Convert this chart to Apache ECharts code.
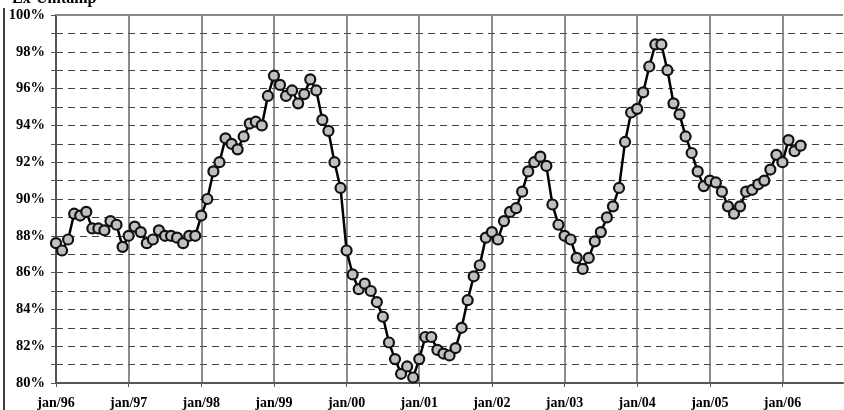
<!DOCTYPE html>
<html>
<head>
<meta charset="utf-8">
<script src="https://cdn.jsdelivr.net/npm/echarts@6/dist/echarts.min.js"></script>
<style>
  html, body { margin: 0; padding: 0; background: #fff; }
  #chart { width: 844px; height: 410px; }
</style>
</head>
<body>
<div id="chart"></div>
<script>
// monthly values, jan/96 .. apr/06 (%)
const values = [
  87.6, 87.2, 87.8, 89.2, 89.1, 89.3, 88.4, 88.4, 88.3, 88.8, 88.6, 87.4,
  88.0, 88.5, 88.2, 87.6, 87.8, 88.3, 88.0, 88.0, 87.9, 87.6, 88.0, 88.0,
  89.1, 90.0, 91.5, 92.0, 93.3, 93.0, 92.7, 93.4, 94.1, 94.2, 94.0, 95.6,
  96.7, 96.2, 95.6, 95.9, 95.2, 95.7, 96.5, 95.9, 94.3, 93.7, 92.0, 90.6,
  87.2, 85.9, 85.1, 85.4, 85.0, 84.4, 83.6, 82.2, 81.3, 80.5, 80.9, 80.3,
  81.3, 82.5, 82.5, 81.8, 81.6, 81.5, 81.9, 83.0, 84.5, 85.8, 86.4, 87.9,
  88.2, 87.8, 88.8, 89.3, 89.5, 90.4, 91.5, 92.0, 92.3, 91.8, 89.7, 88.6,
  88.0, 87.8, 86.8, 86.2, 86.8, 87.7, 88.2, 89.0, 89.6, 90.6, 93.1, 94.7,
  94.9, 95.8, 97.2, 98.4, 98.4, 97.0, 95.2, 94.6, 93.4, 92.5, 91.5, 90.7,
  91.0, 90.9, 90.4, 89.6, 89.2, 89.6, 90.4, 90.5, 90.8, 91.0, 91.6, 92.4,
  92.0, 93.2, 92.6, 92.9
];
const years = ['96', '97', '98', '99', '00', '01', '02', '03', '04', '05', '06'];
const months = ['jan', 'fev', 'mar', 'abr', 'mai', 'jun', 'jul', 'ago', 'set', 'out', 'nov', 'dez'];
const titleText = 'Ex-Umtamp';

// month categories jan/96 .. nov/06
const categories = [];
years.forEach(y => months.forEach(m => categories.push(m + '/' + y)));
categories.length = 131;

const chart = echarts.init(document.getElementById('chart'));
const font = '"Liberation Serif", "Times New Roman", serif';

chart.setOption({
  animation: false,
  title: {
    text: titleText,
    left: 7,
    top: -14,
    textStyle: { fontFamily: font, fontWeight: 'bold', fontSize: 16, color: '#000' }
  },
  grid: { left: 56, right: 1, top: 15, bottom: 27, show: false },
  xAxis: {
    type: 'category',
    data: categories,
    boundaryGap: false,
    axisLine: { lineStyle: { color: '#555', width: 2 } },
    axisTick: { interval: 11, length: 4, lineStyle: { color: '#555', width: 1 } },
    axisLabel: {
      interval: 11,
      margin: 13,
      color: '#000',
      fontFamily: font,
      fontWeight: 'bold',
      fontSize: 14
    },
    splitLine: { show: true, interval: 11, lineStyle: { color: '#666', width: 1.5 } }
  },
  yAxis: {
    type: 'value',
    min: 80,
    max: 100,
    interval: 1,
    axisLine: { show: true, lineStyle: { color: '#555', width: 2 } },
    axisTick: {
      show: true,
      length: 5,
      lineStyle: { color: '#555' },
      interval: (i, v) => Math.round(v) % 2 === 0
    },
    axisLabel: {
      margin: 11,
      color: '#000',
      fontFamily: font,
      fontWeight: 'bold',
      fontSize: 14.5,
      formatter: v => (Math.round(v) % 2 === 0 ? v + '%' : '')
    },
    splitLine: { lineStyle: { color: '#444', width: 1, type: [7, 5] } }
  },
  series: [{
    type: 'line',
    data: values,
    symbol: 'circle',
    symbolSize: 10,
    showAllSymbol: true,
    lineStyle: { color: '#000', width: 2.5 },
    itemStyle: { color: '#c0c0c0', borderColor: '#111', borderWidth: 2.2 },
    markLine: {
      silent: true,
      symbol: 'none',
      label: { show: false },
      lineStyle: { color: '#888', width: 2, type: 'solid' },
      data: [{ yAxis: 100 }]
    }
  }],
  graphic: [{
    type: 'line',
    shape: { x1: 4, y1: 8, x2: 4, y2: 410 },
    style: { stroke: '#000', lineWidth: 1.5 }
  }]
});
</script>
</body>
</html>
